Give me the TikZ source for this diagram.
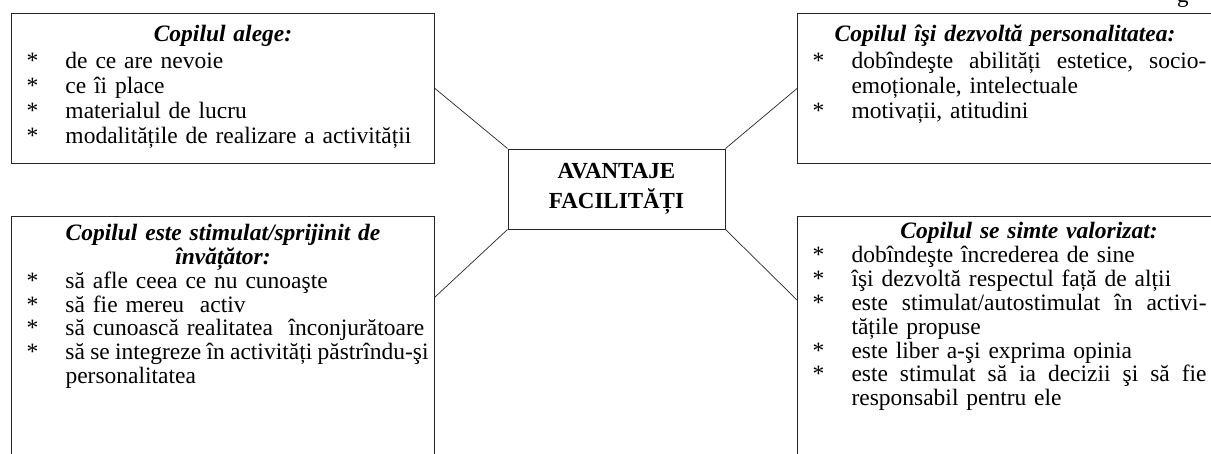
\documentclass[tikz,border=0pt]{standalone}
\usepackage{fontspec}
\setmainfont{Liberation Serif}
\hyphenpenalty=10000
\exhyphenpenalty=10000
\newcommand{\itemstar}{\par\noindent\hangindent=48pt\hangafter=1\makebox[48pt][l]{\makebox[30pt]{*}}}
\newcommand{\panelhead}[2][2pt]{{\centering\bfseries\itshape\strut#2\par}\vspace{#1}}
% justified line: words spread with \hfill
\newcommand{\fullline}[2]{\makebox[#1][l]{#2}\linebreak}
\begin{document}
\begin{tikzpicture}[
  x=1pt, y=-1pt,
  panel/.style={rectangle, draw=black!85, line width=1pt, anchor=north west,
    inner xsep=6pt, inner ysep=10pt, text width=411pt,
    font=\fontsize{23.5}{#1}\selectfont},
  panel/.default=25,
  hub/.style={rectangle, draw=black!85, line width=1pt, minimum width=217pt,
    minimum height=80pt, align=center, font=\fontsize{23}{30}\selectfont\bfseries},
  link/.style={draw=black!85, line width=0.7pt}
]
\useasboundingbox (0,0) rectangle (1211,453);
\clip (0,0) rectangle (1211,453);

\node[anchor=base west, inner sep=0pt, font=\fontsize{23}{24}\selectfont] (pagemark) at (1177,2) {g};

\node[hub] (hub) at (616.5,189) {AVANTAJE\\FACILITĂȚI};

\node[panel, text depth=112.5pt] (chooses) at (11,13) {\panelhead{Copilul alege:}
\itemstar de ce are nevoie
\itemstar ce îi place
\itemstar materialul de lucru
\itemstar modalitățile de realizare a activității\par};

\node[panel, text width=403pt, text depth=112.5pt] (develops) at (797,13) {\panelhead{Copilul îşi dezvoltă personalitatea:}
\itemstar\fullline{355pt}{dobîndeşte\hfill abilități\hfill estetice,\hfill socio-}emoționale, intelectuale
\itemstar motivații, atitudini\par};

\node[panel=23.8, inner ysep=7.5pt, text depth=223pt] (stimulated) at (11,216) {\panelhead[0pt]{Copilul este stimulat/sprijinit de\\învățător:}
\itemstar să afle ceea ce nu cunoaşte
\itemstar să fie mereu\ \ activ
\itemstar să cunoască realitatea\ \ înconjurătoare
\itemstar\fullline{363pt}{să\hfill se\hfill integreze\hfill în\hfill activități\hfill păstrîndu-şi}personalitatea\par};

\node[panel=23.8, inner ysep=5pt, text width=403pt, text depth=223pt] (valued) at (797,216) {\panelhead[1pt]{\hspace*{48pt}Copilul se simte valorizat:}
\itemstar dobîndeşte încrederea de sine
\itemstar îşi dezvoltă respectul față de alții
\itemstar\fullline{355pt}{este\hfill stimulat/autostimulat\hfill în\hfill activi-}tățile propuse
\itemstar este liber a-şi exprima opinia
\itemstar\fullline{355pt}{este\hfill stimulat\hfill să\hfill ia\hfill decizii\hfill şi\hfill să\hfill fie}responsabil pentru ele\par};

\draw[link] (chooses.east) -- (hub.north west);
\draw[link] (develops.west) -- (hub.north east);
\draw[link] ([yshift=-81pt]stimulated.north east) -- (hub.south west);
\draw[link] ([yshift=-84pt]valued.north west) -- (hub.south east);
\end{tikzpicture}
\end{document}
